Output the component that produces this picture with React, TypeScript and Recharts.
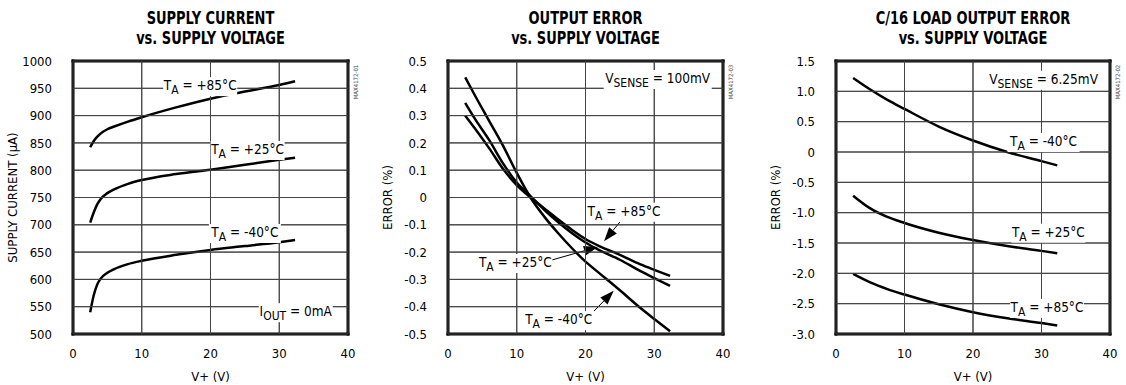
import { LineChart, Line, XAxis, YAxis, CartesianGrid, ReferenceDot, ReferenceLine } from 'recharts'

const FONT = "'DejaVu Sans Condensed', 'Liberation Sans Narrow', 'Arial Narrow', sans-serif"

const voltTicks = [0, 10, 20, 30, 40]

// supply current (µA), IOUT = 0mA
const currentVolts = [2.5, 3, 3.5, 4, 5, 6, 8, 10, 15, 20, 25, 30, 32.3]
const currentHot = [842, 853, 861, 867, 875, 880, 889, 897, 915, 931, 944, 956, 963]
const currentRoom = [704, 722, 737, 747, 758, 765, 775, 782, 793, 801, 810, 819, 823]
const currentCold = [540, 570, 590, 601, 612, 619, 628, 634, 645, 654, 661, 668, 672]
const currentTicks = [500, 550, 600, 650, 700, 750, 800, 850, 900, 950, 1000]

// output error (%), VSENSE = 100mV
const errorVolts = [2.5, 4, 6, 8, 10, 12, 14, 16, 18, 20, 22, 25, 28, 30, 32.3]
const errorHot = [0.3, 0.25, 0.18, 0.105, 0.045, 0.0, -0.04, -0.08, -0.118, -0.152, -0.178, -0.21, -0.245, -0.265, -0.287]
const errorRoom = [0.347, 0.285, 0.21, 0.125, 0.055, 0.005, -0.045, -0.09, -0.13, -0.165, -0.193, -0.228, -0.27, -0.295, -0.324]
const errorCold = [0.44, 0.37, 0.28, 0.19, 0.09, 0.0, -0.07, -0.13, -0.185, -0.235, -0.277, -0.34, -0.405, -0.445, -0.49]
const errorTicks = [-0.5, -0.4, -0.3, -0.2, -0.1, 0, 0.1, 0.2, 0.3, 0.4, 0.5]

// C/16 load output error (%), VSENSE = 6.25mV
const loadVolts = [2.5, 5, 7.5, 10, 15, 20, 25, 30, 32.3]
const loadCold = [1.22, 1.03, 0.86, 0.71, 0.42, 0.19, 0.0, -0.15, -0.22]
const loadRoom = [-0.72, -0.93, -1.07, -1.17, -1.33, -1.45, -1.55, -1.63, -1.67]
const loadHot = [-2.01, -2.15, -2.26, -2.35, -2.51, -2.64, -2.74, -2.82, -2.86]
const loadTicks = [-3, -2.5, -2, -1.5, -1, -0.5, 0, 0.5, 1, 1.5]

type Tag = { x: number; y: number; main: string; sub: string; rest: string; w: number }
type Arrow = { from: [number, number]; to: [number, number] }
type Seg = [{ x: number; y: number }, { x: number; y: number }]

const tagRenderer = (t: Tag) => (p: any) => {
  const vb = p.viewBox || {}
  const cx = (vb.x ?? p.x ?? 0) + (vb.width || 0) / 2
  const cy = (vb.y ?? p.y ?? 0) + (vb.height || 0) / 2
  return (
    <g>
      <rect x={cx - t.w / 2} y={cy - 9} width={t.w} height={19} fill="#fff" />
      <text x={cx} y={cy + 4} textAnchor="middle" fontFamily={FONT} fontSize={13.5} fill="#000">
        {t.main}
        <tspan dy={4} fontSize={12}>{t.sub}</tspan>
        <tspan dy={-4}>{t.rest}</tspan>
      </text>
    </g>
  )
}

const ArrowShape = (p: any) => {
  const { x1, y1, x2, y2 } = p
  const a = Math.atan2(y2 - y1, x2 - x1)
  const len = 14
  const half = 5
  const bx = x2 - len * Math.cos(a)
  const by = y2 - len * Math.sin(a)
  const pts = [
    `${x2},${y2}`,
    `${bx - half * Math.sin(a)},${by + half * Math.cos(a)}`,
    `${bx + half * Math.sin(a)},${by - half * Math.cos(a)}`,
  ].join(' ')
  return (
    <g>
      <line x1={x1} y1={y1} x2={bx} y2={by} stroke="#000" strokeWidth={1} />
      <polygon points={pts} fill="#000" />
    </g>
  )
}

interface PanelProps {
  left: number
  width: number
  title: [string, string]
  yLabel: string
  yTicks: number[]
  volts: number[]
  series: number[][]
  tags: Tag[]
  arrows?: Arrow[]
  code: string
  fmt?: (v: number) => string
}

const PLOT_TOP = 61
const PLOT_H = 273
const AXIS_W = 73
const RIGHT = 27

function Panel({ left, width, title, yLabel, yTicks, volts, series, tags, arrows = [], code, fmt }: PanelProps) {
  const rows = volts.map((v, i) => {
    const row: Record<string, number> = { v }
    series.forEach((s, k) => (row[`s${k}`] = s[i]))
    return row
  })
  const yMin = yTicks[0]
  const yMax = yTicks[yTicks.length - 1]
  const xMin = voltTicks[0]
  const xMax = voltTicks[voltTicks.length - 1]
  const plotW = width - AXIS_W - RIGHT
  const tickStyle = { fill: '#000', fontSize: 13, fontFamily: FONT }
  const gridLine = { stroke: '#444', strokeWidth: 1 }

  const frameSegs: Seg[] = [
    [{ x: xMin, y: yMin }, { x: xMax, y: yMin }],
    [{ x: xMin, y: yMax }, { x: xMax, y: yMax }],
    [{ x: xMin, y: yMin }, { x: xMin, y: yMax }],
    [{ x: xMax, y: yMin }, { x: xMax, y: yMax }],
  ]

  return (
    <div style={{ position: 'absolute', left, top: 0, width, height: 385 }}>
      <div
        style={{
          position: 'absolute',
          left: AXIS_W - 40,
          width: plotW + 80,
          top: 8,
          textAlign: 'center',
          fontFamily: FONT,
          fontWeight: 'bold',
          fontSize: 17,
          lineHeight: '20px',
          transform: 'scaleX(0.85)',
          transformOrigin: 'center',
        }}
      >
        {title[0]}
        <br />
        {title[1]}
      </div>
      <div
        style={{
          position: 'absolute',
          left: AXIS_W + plotW + 7,
          top: 82,
          transform: 'translate(-50%, -50%) rotate(-90deg)',
          fontFamily: FONT,
          fontSize: 6,
          color: '#444',
          whiteSpace: 'nowrap',
        }}
      >
        {code}
      </div>
      <LineChart
        width={width}
        height={385}
        data={rows}
        margin={{ top: PLOT_TOP, right: RIGHT, bottom: 0, left: 0 }}
      >
        <CartesianGrid stroke="#444" />
        {/* tick lines run across the whole plot so they double as the grid */}
        <XAxis
          dataKey="v"
          type="number"
          domain={[xMin, xMax]}
          ticks={voltTicks}
          interval={0}
          axisLine={false}
          tickLine={gridLine}
          tickSize={-PLOT_H}
          tickMargin={PLOT_H + 15}
          height={51}
          tick={tickStyle}
          label={{ value: 'V+ (V)', position: 'insideBottom', offset: 4, style: tickStyle }}
        />
        <YAxis
          type="number"
          domain={[yMin, yMax]}
          ticks={yTicks}
          width={AXIS_W}
          axisLine={false}
          tickLine={gridLine}
          tickSize={-plotW}
          tickMargin={plotW + 21}
          tick={tickStyle}
          tickFormatter={fmt}
          interval={0}
          label={{
            value: yLabel,
            angle: -90,
            position: 'insideLeft',
            offset: 12,
            style: { ...tickStyle, textAnchor: 'middle' },
          }}
        />
        {series.map((_, k) => (
          <Line
            key={k}
            type="monotone"
            dataKey={`s${k}`}
            stroke="#000"
            strokeWidth={2.5}
            dot={false}
            isAnimationActive={false}
          />
        ))}
        {frameSegs.map((s, i) => (
          <ReferenceLine key={`f${i}`} segment={s} stroke="#000" strokeWidth={3} strokeLinecap="square" />
        ))}
        {arrows.map((a, i) => (
          <ReferenceLine
            key={`a${i}`}
            segment={[
              { x: a.from[0], y: a.from[1] },
              { x: a.to[0], y: a.to[1] },
            ]}
            shape={ArrowShape}
          />
        ))}
        {tags.map((t, i) => (
          <ReferenceDot key={`t${i}`} x={t.x} y={t.y} r={0} fill="none" stroke="none" label={tagRenderer(t)} />
        ))}
      </LineChart>
    </div>
  )
}

const decimal = (v: number) => (v === 0 ? '0' : v.toFixed(1))

export default function App() {
  return (
    <div style={{ position: 'absolute', left: 0, top: 0, width: 1126, height: 385, background: '#fff' }}>
      <Panel
        left={0}
        width={375}
        title={['SUPPLY CURRENT', 'vs. SUPPLY VOLTAGE']}
        yLabel="SUPPLY CURRENT (µA)"
        yTicks={currentTicks}
        volts={currentVolts}
        series={[currentHot, currentRoom, currentCold]}
        code="MAX4172-01"
        tags={[
          { x: 18.5, y: 954, main: 'T', sub: 'A', rest: ' = +85°C', w: 74 },
          { x: 25.4, y: 837, main: 'T', sub: 'A', rest: ' = +25°C', w: 74 },
          { x: 25.0, y: 685, main: 'T', sub: 'A', rest: ' = -40°C', w: 72 },
          { x: 32.4, y: 540, main: 'I', sub: 'OUT', rest: ' = 0mA', w: 74 },
        ]}
      />
      <Panel
        left={375}
        width={375}
        title={['OUTPUT ERROR', 'vs. SUPPLY VOLTAGE']}
        yLabel="ERROR (%)"
        yTicks={errorTicks}
        volts={errorVolts}
        series={[errorHot, errorRoom, errorCold]}
        code="MAX4172-03"
        fmt={decimal}
        arrows={[
          { from: [25.0, -0.09], to: [22.7, -0.16] },
          { from: [15.1, -0.229], to: [21.8, -0.181] },
          { from: [20.7, -0.43], to: [24.1, -0.342] },
        ]}
        tags={[
          { x: 30.5, y: 0.434, main: 'V', sub: 'SENSE', rest: ' = 100mV', w: 108 },
          { x: 25.6, y: -0.052, main: 'T', sub: 'A', rest: ' = +85°C', w: 74 },
          { x: 9.8, y: -0.24, main: 'T', sub: 'A', rest: ' = +25°C', w: 74 },
          { x: 16.1, y: -0.449, main: 'T', sub: 'A', rest: ' = -40°C', w: 72 },
        ]}
      />
      <Panel
        left={763}
        width={374}
        title={['C/16 LOAD OUTPUT ERROR', 'vs. SUPPLY VOLTAGE']}
        yLabel="ERROR (%)"
        yTicks={loadTicks}
        volts={loadVolts}
        series={[loadCold, loadRoom, loadHot]}
        code="MAX4172-02"
        fmt={decimal}
        tags={[
          { x: 30.3, y: 1.19, main: 'V', sub: 'SENSE', rest: ' = 6.25mV', w: 112 },
          { x: 30.3, y: 0.165, main: 'T', sub: 'A', rest: ' = -40°C', w: 72 },
          { x: 31.0, y: -1.33, main: 'T', sub: 'A', rest: ' = +25°C', w: 74 },
          { x: 30.8, y: -2.57, main: 'T', sub: 'A', rest: ' = +85°C', w: 74 },
        ]}
      />
    </div>
  )
}
